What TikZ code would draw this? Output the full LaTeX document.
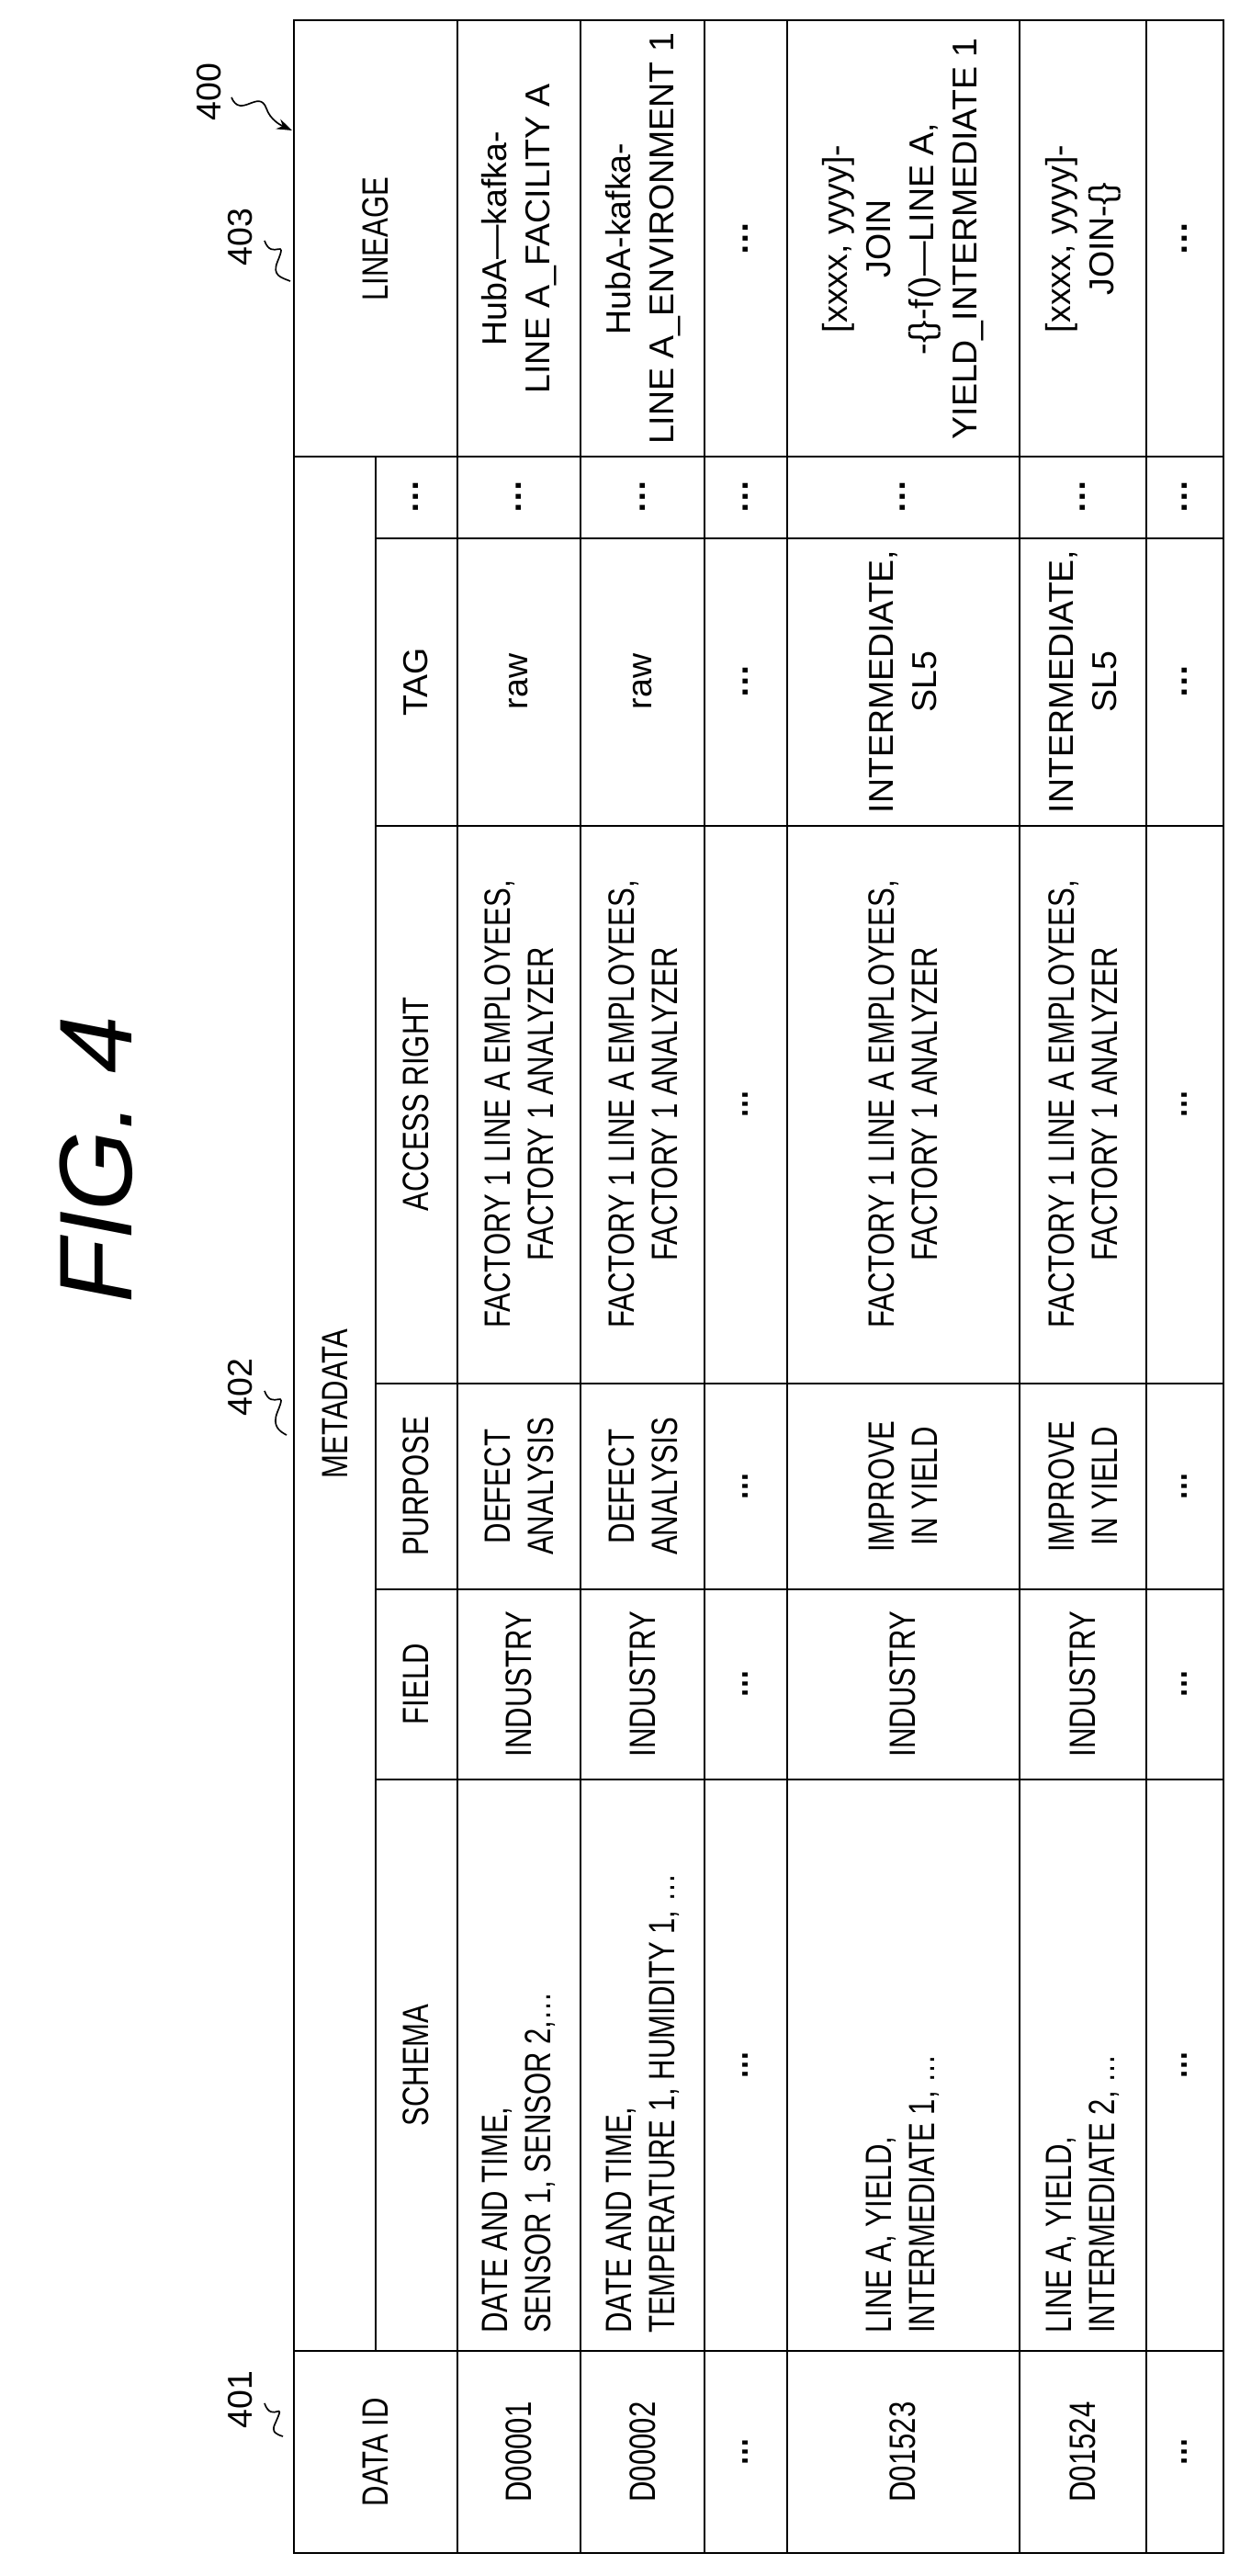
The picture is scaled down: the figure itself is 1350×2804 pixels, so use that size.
\documentclass[tikz,border=0pt]{standalone}
\usepackage{fontspec}
\setmainfont{Liberation Sans}[FakeStretch=0.78]
\newfontfamily\reffont{Liberation Sans}
\usetikzlibrary{arrows.meta}
\begin{document}
\begin{tikzpicture}[x=0.3mm,y=-0.3mm,
  cell/.style={rotate=90,align=center,font=\fontsize{34}{40}\selectfont,inner sep=0pt},
  wcell/.style={cell,font=\reffont\fontsize{32}{40}\selectfont},
  lcell/.style={cell,align=left,anchor=west},
  refn/.style={rotate=90,font=\reffont\fontsize{32}{32}\selectfont,inner sep=0pt},
  grid/.style={line width=0.5mm}]
\useasboundingbox (0,0) rectangle (1350,2804);
% table lines
\draw[grid] (320,22) rectangle (1332,2779);
\foreach \x in {498,632,767,857,1110,1248} \draw[grid] (\x,22) -- (\x,2779);
\draw[grid] (409,497) -- (409,2559);
\draw[grid] (320,497) -- (1332,497);
\draw[grid] (320,2559) -- (1332,2559);
\foreach \y in {586,899,1506,1730,1937} \draw[grid] (409,\y) -- (1332,\y);
% headers
\node[cell] (hlin) at (409,260) {LINEAGE};
\node[cell] (hmeta) at (365,1528) {METADATA};
\node[cell] (hdid) at (409,2669) {DATA ID};
\node[wcell] (hdots) at (453,541) {\textbf{\dots}};
\node[wcell] (htag) at (453,742) {TAG};
\node[cell] (hacc) at (453,1202) {ACCESS RIGHT};
\node[cell] (hpur) at (453,1618) {PURPOSE};
\node[cell] (hfie) at (453,1833) {FIELD};
\node[cell] (hsch) at (453,2248) {SCHEMA};
% row D00001
\node[cell] (a1) at (565,2669) {D00001};
\node[lcell] (a2) at (565,2540) {DATE AND TIME,\\SENSOR 1, SENSOR 2,\dots};
\node[cell] (a3) at (565,1833) {INDUSTRY};
\node[cell] (a4) at (565,1618) {DEFECT\\ANALYSIS};
\node[cell] (a5) at (565,1202) {FACTORY 1 LINE A EMPLOYEES,\\FACTORY 1 ANALYZER};
\node[wcell] (a6) at (565,742) {raw};
\node[wcell] (a7) at (565,541) {\textbf{\dots}};
\node[wcell] (a8) at (565,260) {HubA—kafka-\\LINE A\_FACILITY A};
% row D00002
\node[cell] (b1) at (700,2669) {D00002};
\node[lcell] (b2) at (700,2540) {DATE AND TIME,\\TEMPERATURE 1, HUMIDITY 1, \dots};
\node[cell] (b3) at (700,1833) {INDUSTRY};
\node[cell] (b4) at (700,1618) {DEFECT\\ANALYSIS};
\node[cell] (b5) at (700,1202) {FACTORY 1 LINE A EMPLOYEES,\\FACTORY 1 ANALYZER};
\node[wcell] (b6) at (700,742) {raw};
\node[wcell] (b7) at (700,541) {\textbf{\dots}};
\node[wcell] (b8) at (700,260) {HubA-kafka-\\LINE A\_ENVIRONMENT 1};
% dots row
\node[cell] (c1) at (812,2669) {\textbf{\dots}};
\node[cell] (c2) at (812,2248) {\textbf{\dots}};
\node[cell] (c3) at (812,1833) {\textbf{\dots}};
\node[cell] (c4) at (812,1618) {\textbf{\dots}};
\node[cell] (c5) at (812,1202) {\textbf{\dots}};
\node[wcell] (c6) at (812,742) {\textbf{\dots}};
\node[wcell] (c7) at (812,541) {\textbf{\dots}};
\node[wcell] (c8) at (812,260) {\textbf{\dots}};
% row D01523
\node[cell] (d1) at (983,2669) {D01523};
\node[lcell] (d2) at (983,2540) {LINE A, YIELD,\\INTERMEDIATE 1, \dots};
\node[cell] (d3) at (983,1833) {INDUSTRY};
\node[cell] (d4) at (983,1618) {IMPROVE\\IN YIELD};
\node[cell] (d5) at (983,1202) {FACTORY 1 LINE A EMPLOYEES,\\FACTORY 1 ANALYZER};
\node[wcell] (d6) at (983,742) {INTERMEDIATE,\\SL5};
\node[wcell] (d7) at (983,541) {\textbf{\dots}};
\node[wcell] (d8) at (983,260) {[xxxx, yyyy]-\\JOIN\\-\{\}-f()—LINE A,\\YIELD\_INTERMEDIATE 1};
% row D01524
\node[cell] (e1) at (1179,2669) {D01524};
\node[lcell] (e2) at (1179,2540) {LINE A, YIELD,\\INTERMEDIATE 2, \dots};
\node[cell] (e3) at (1179,1833) {INDUSTRY};
\node[cell] (e4) at (1179,1618) {IMPROVE\\IN YIELD};
\node[cell] (e5) at (1179,1202) {FACTORY 1 LINE A EMPLOYEES,\\FACTORY 1 ANALYZER};
\node[wcell] (e6) at (1179,742) {INTERMEDIATE,\\SL5};
\node[wcell] (e7) at (1179,541) {\textbf{\dots}};
\node[wcell] (e8) at (1179,260) {[xxxx, yyyy]-\\JOIN-\{\}};
% last dots row
\node[cell] (f1) at (1290,2669) {\textbf{\dots}};
\node[cell] (f2) at (1290,2248) {\textbf{\dots}};
\node[cell] (f3) at (1290,1833) {\textbf{\dots}};
\node[cell] (f4) at (1290,1618) {\textbf{\dots}};
\node[cell] (f5) at (1290,1202) {\textbf{\dots}};
\node[wcell] (f6) at (1290,742) {\textbf{\dots}};
\node[wcell] (f7) at (1290,541) {\textbf{\dots}};
\node[wcell] (f8) at (1290,260) {\textbf{\dots}};
% figure title and reference numerals
\node[rotate=90,font=\reffont\itshape\fontsize{96}{96}\selectfont] (fig) at (105,1262) {FIG. 4};
\node[refn] (r400) at (228,100) {400};
\node[refn] (r403) at (262,258) {403};
\node[refn] (r402) at (262,1510) {402};
\node[refn] (r401) at (262,2612) {401};
\coordinate (t400) at (318,142);
\coordinate (t403) at (316,306);
\coordinate (t402) at (312,1562);
\coordinate (t401) at (308,2652);
\draw[line width=0.5mm,-{Stealth[length=5mm,width=3.5mm]}] (252,106) .. controls (262,130) and (282,96) .. (290,118) .. controls (294,130) and (305,136) .. (t400);
\draw[line width=0.5mm] (288,262) .. controls (296,285) and (314,256) .. (302,285) .. controls (296,300) and (306,302) .. (t403);
\draw[line width=0.5mm] (288,1514) .. controls (296,1537) and (314,1508) .. (302,1537) .. controls (296,1552) and (304,1558) .. (t402);
\draw[line width=0.5mm] (288,2616) .. controls (296,2639) and (312,2610) .. (300,2637) .. controls (294,2648) and (302,2650) .. (t401);
\end{tikzpicture}
\end{document}
